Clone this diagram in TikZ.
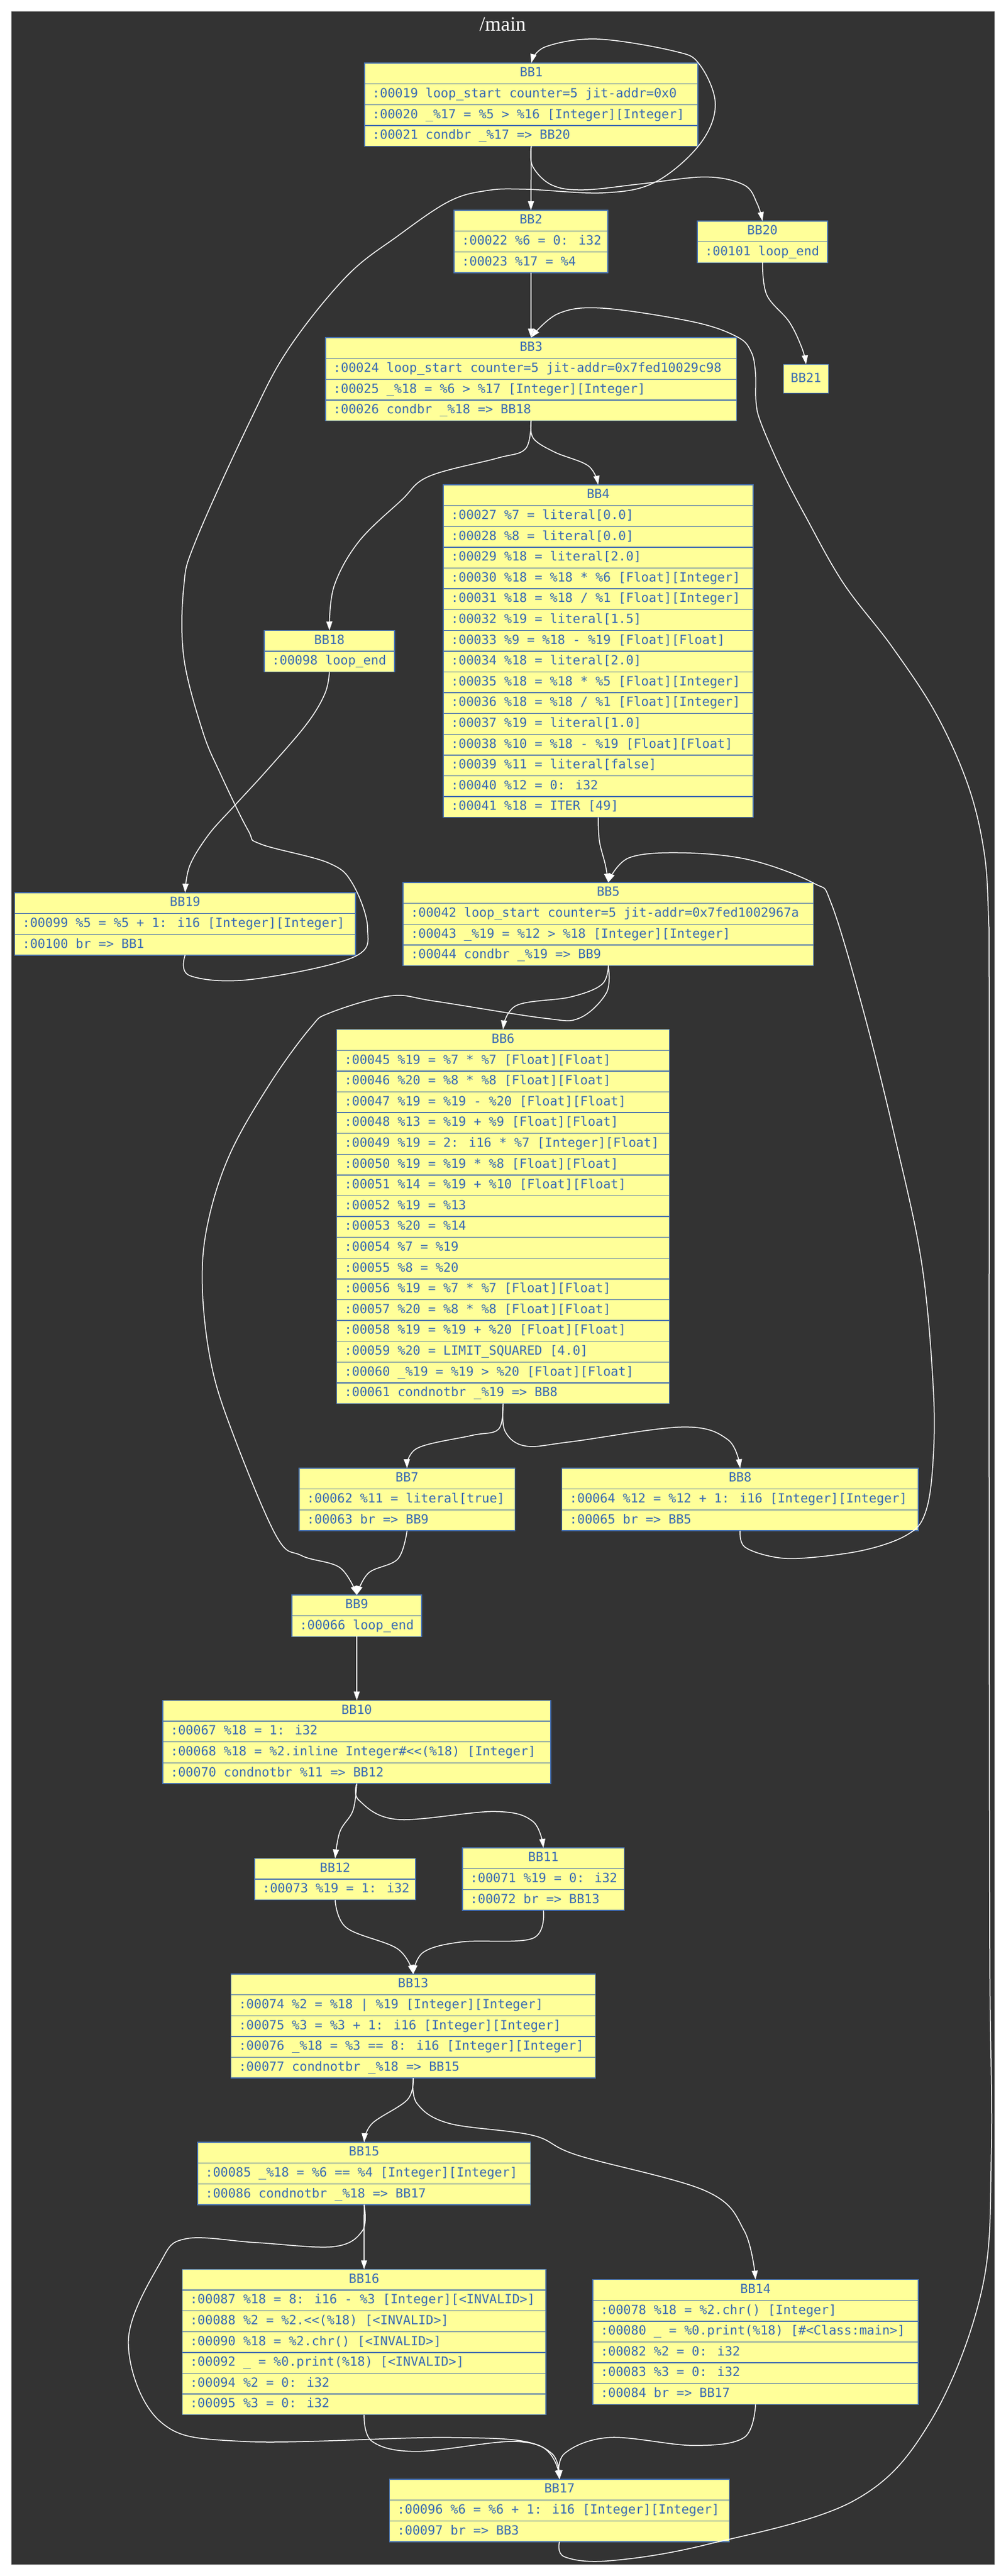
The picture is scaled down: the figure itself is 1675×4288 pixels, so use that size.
\documentclass[tikz,border=0pt]{standalone}
\usepackage{fontspec}
\setmainfont{Liberation Serif}
\newfontfamily\codefont{DejaVu Sans Mono}
\usetikzlibrary{arrows.meta}
\definecolor{bgc}{HTML}{333333}
\definecolor{framec}{HTML}{4A4A4A}
\definecolor{fillc}{HTML}{FFFF99}
\definecolor{txtc}{HTML}{386AB4}
\definecolor{bordc}{HTML}{4670B0}
\tikzset{
  bbox/.style={draw=bordc, fill=fillc, line width=1.4pt, inner sep=0pt, outer sep=0pt},
  sepline/.style={draw=bordc, line width=1.4pt},
  celltext/.style={text=txtc, font=\codefont\fontsize{21.05}{24}\selectfont, inner sep=0pt},
  flow/.style={draw=white, line width=1.5pt, -{Triangle[width=10pt,length=15pt]}, line join=round},
  titletext/.style={text=white, font=\fontsize{34}{40}\selectfont, inner sep=0pt}
}
\def\rh{34.6}
% #1 name, #2 left, #3 top, #4 right, #5 header, #6 rows
\newcommand\bblock[6]{%
  \foreach \t [count=\n] in {#6} {\xdef\nrows{\n}}%
  \pgfmathsetmacro\bw{#4-#2}%
  \pgfmathsetmacro\bh{(\nrows+1)*\rh}%
  \node[bbox, minimum width=\bw pt, minimum height=\bh pt, anchor=north west] (#1) at (#2,#3) {};
  \node[celltext, anchor=base] (#1-h) at ({(#2+#4)/2},{#3+0.5*\rh+5.5}) {#5};
  \foreach \t [count=\i] in {#6} {
    \draw[sepline] (#2,{#3+\i*\rh}) -- (#4,{#3+\i*\rh});
    \node[celltext, anchor=base west] (#1-\i) at ({#2+12.7},{#3+(\i+0.5)*\rh+5.5}) {\t};
  }
}
\begin{document}
\begin{tikzpicture}[x=1pt,y=-1pt]
\useasboundingbox (0,0) rectangle (1675,4288);
\fill[white] (0,0) rectangle (1675,4288);
\filldraw[fill=bgc, draw=framec, line width=1.2pt] (19.3,19.3) rectangle (1655.5,4268.5);
\node[titletext, anchor=base] (title) at (837,51) {/main};

\bblock{bb1}{607}{105}{1162}{BB1}{{:00019 loop\_start counter=5 jit-addr=0x0},{:00020 \_\%17 = \%5 > \%16 [Integer][Integer]},{:00021 condbr \_\%17 => BB20}}
\bblock{bb2}{756}{350}{1012}{BB2}{{:00022 \%6 = 0: i32},{:00023 \%17 = \%4}}
\bblock{bb20}{1161}{368}{1378}{BB20}{{:00101 loop\_end}}
\node[bbox, minimum width=75pt, minimum height=48.2pt, anchor=north west] (bb21) at (1304.5,606.5) {};
\node[celltext, anchor=base] (bb21-h) at (1342,636.1) {BB21};
\bblock{bb3}{542}{562}{1226.5}{BB3}{{:00024 loop\_start counter=5 jit-addr=0x7fed10029c98},{:00025 \_\%18 = \%6 > \%17 [Integer][Integer]},{:00026 condbr \_\%18 => BB18}}
\bblock{bb4}{738}{807}{1254}{BB4}{{:00027 \%7 = literal[0.0]},{:00028 \%8 = literal[0.0]},{:00029 \%18 = literal[2.0]},{:00030 \%18 = \%18 * \%6 [Float][Integer]},{:00031 \%18 = \%18 / \%1 [Float][Integer]},{:00032 \%19 = literal[1.5]},{:00033 \%9 = \%18 - \%19 [Float][Float]},{:00034 \%18 = literal[2.0]},{:00035 \%18 = \%18 * \%5 [Float][Integer]},{:00036 \%18 = \%18 / \%1 [Float][Integer]},{:00037 \%19 = literal[1.0]},{:00038 \%10 = \%18 - \%19 [Float][Float]},{:00039 \%11 = literal[false]},{:00040 \%12 = 0: i32},{:00041 \%18 = ITER [49]}}
\bblock{bb18}{440}{1049.5}{657}{BB18}{{:00098 loop\_end}}
\bblock{bb19}{24.5}{1486}{592}{BB19}{{:00099 \%5 = \%5 + 1: i16 [Integer][Integer]},{:00100 br => BB1}}
\bblock{bb5}{671}{1469}{1354.6}{BB5}{{:00042 loop\_start counter=5 jit-addr=0x7fed1002967a},{:00043 \_\%19 = \%12 > \%18 [Integer][Integer]},{:00044 condbr \_\%19 => BB9}}
\bblock{bb6}{560.5}{1713.7}{1114.7}{BB6}{{:00045 \%19 = \%7 * \%7 [Float][Float]},{:00046 \%20 = \%8 * \%8 [Float][Float]},{:00047 \%19 = \%19 - \%20 [Float][Float]},{:00048 \%13 = \%19 + \%9 [Float][Float]},{:00049 \%19 = 2: i16 * \%7 [Integer][Float]},{:00050 \%19 = \%19 * \%8 [Float][Float]},{:00051 \%14 = \%19 + \%10 [Float][Float]},{:00052 \%19 = \%13},{:00053 \%20 = \%14},{:00054 \%7 = \%19},{:00055 \%8 = \%20},{:00056 \%19 = \%7 * \%7 [Float][Float]},{:00057 \%20 = \%8 * \%8 [Float][Float]},{:00058 \%19 = \%19 + \%20 [Float][Float]},{:00059 \%20 = LIMIT\_SQUARED [4.0]},{:00060 \_\%19 = \%19 > \%20 [Float][Float]},{:00061 condnotbr \_\%19 => BB8}}
\bblock{bb7}{498}{2444}{857.5}{BB7}{{:00062 \%11 = literal[true]},{:00063 br => BB9}}
\bblock{bb8}{935.5}{2444}{1529}{BB8}{{:00064 \%12 = \%12 + 1: i16 [Integer][Integer]},{:00065 br => BB5}}
\bblock{bb9}{486}{2655}{702}{BB9}{{:00066 loop\_end}}
\bblock{bb10}{271}{2830.5}{917}{BB10}{{:00067 \%18 = 1: i32},{:00068 \%18 = \%2.inline Integer\#<{}<(\%18) [Integer]},{:00070 condnotbr \%11 => BB12}}
\bblock{bb12}{424}{3093.5}{692}{BB12}{{:00073 \%19 = 1: i32}}
\bblock{bb11}{770}{3076}{1039.5}{BB11}{{:00071 \%19 = 0: i32},{:00072 br => BB13}}
\bblock{bb13}{384.6}{3286}{991.5}{BB13}{{:00074 \%2 = \%18 | \%19 [Integer][Integer]},{:00075 \%3 = \%3 + 1: i16 [Integer][Integer]},{:00076 \_\%18 = \%3 == 8: i16 [Integer][Integer]},{:00077 condnotbr \_\%18 => BB15}}
\bblock{bb15}{329}{3566}{883.5}{BB15}{{:00085 \_\%18 = \%6 == \%4 [Integer][Integer]},{:00086 condnotbr \_\%18 => BB17}}
\bblock{bb16}{303.4}{3777.5}{909}{BB16}{{:00087 \%18 = 8: i16 - \%3 [Integer][<INVALID>]},{:00088 \%2 = \%2.<{}<(\%18) [<INVALID>]},{:00090 \%18 = \%2.chr() [<INVALID>]},{:00092 \_ = \%0.print(\%18) [<INVALID>]},{:00094 \%2 = 0: i32},{:00095 \%3 = 0: i32}}
\bblock{bb14}{987}{3794.7}{1529}{BB14}{{:00078 \%18 = \%2.chr() [Integer]},{:00080 \_ = \%0.print(\%18) [\#<Class:main>]},{:00082 \%2 = 0: i32},{:00083 \%3 = 0: i32},{:00084 br => BB17}}
\bblock{bb17}{648.5}{4127}{1214.7}{BB17}{{:00096 \%6 = \%6 + 1: i16 [Integer][Integer]},{:00097 br => BB3}}

% edges
\draw[flow] (bb1.south) -- (bb2.north);
\draw[flow] plot[smooth, tension=0.6] coordinates {(bb1.south) (886.8,276.8) (918.8,308) (972,316) (1068,306) (1175,294.6) (1239,308) (1260.7,339) (bb20.north)};
\draw[flow] plot[smooth, tension=0.6] coordinates {(bb19.south) (316,1624) (416,1630.6) (587,1594) (612,1545) (587,1471) (546,1436) (434,1405) (413,1382) (367,1288) (337,1216) (306,1094) (306,976.5) (326,900) (416.7,700) (480.8,580) (577,460) (662,393) (748,335) (812,317) (876,315) (1004,321) (1090,303.6) (1164.5,241) (1191,174) (1164.5,107) (1122,85) (994,65) (908,78) (bb1.north)};
\draw[flow] (bb2.south) -- (bb3.north);
\draw[flow] plot[smooth, tension=0.6] coordinates {(bb3.south) (875,747) (826.5,763) (714,793) (668,833) (597,902) (556,976.5) (bb18.north)};
\draw[flow] plot[smooth, tension=0.6] coordinates {(bb3.south) (888,729.6) (923.5,752.6) (979.6,775.5) (bb4.north)};
\draw[flow] plot[smooth, tension=0.6] coordinates {(bb17.south) (940,4256) (1015,4262.6) (1175,4236) (1421,4163) (1549,4031) (1634.6,3812.5) (1650.6,3581) (1648,3250) (1647,2500) (1647,1650) (1646,1532) (1638.8,1420) (1612,1307.6) (1558.4,1188) (1484.8,1076) (1404.4,971) (1340.8,858.7) (1300.7,781.5) (1267,704) (1258.8,669) (1257.8,620) (1250.4,585) (1227,560.5) (1154,535.7) (1004,513) (929.5,522) (bb3.north)};
\draw[flow] plot[smooth, tension=0.6] coordinates {(bb4.south) (998,1400) (1008,1440) (bb5.north)};
\draw[flow] plot[smooth, tension=0.6] coordinates {(bb8.south) (1240,2575) (1290,2592) (1346,2593) (1440,2580) (1510,2555) (1540,2520) (1553,2440) (1554,2312) (1534.5,2102) (1489.5,1891) (1437,1680.7) (1384.5,1505) (1354.6,1470) (1249.6,1431.6) (1137,1419.6) (1047,1428) (bb5.north)};
\draw[flow] plot[smooth, tension=0.6] coordinates {(bb5.south) (1002.2,1638.6) (949.8,1659.6) (859.8,1673.7) (bb6.north)};
\draw[flow] plot[smooth, tension=0.6] coordinates {(bb5.south) (1009.7,1652.6) (964.8,1694.7) (904.8,1694.7) (725,1666.7) (650,1657.7) (550,1685.7) (516.7,1711) (450,1803) (383.3,1920) (346.7,2032.7) (336.7,2134.7) (350,2262) (383.3,2374.5) (459,2555) (502,2589.4) (566,2609.5) (bb9.north)};
\draw[flow] plot[smooth, tension=0.6] coordinates {(bb6.south) (830,2379) (785,2389.5) (695,2410.5) (bb7.north)};
\draw[flow] plot[smooth, tension=0.6] coordinates {(bb6.south) (841,2382.5) (875,2407) (950,2400) (1137,2375.4) (1212,2396.5) (bb8.north)};
\draw[flow] plot[smooth, tension=0.6] coordinates {(bb7.south) (662.4,2595) (614,2618) (bb9.north)};
\draw[flow] (bb9.south) -- (bb10.north);
\draw[flow] plot[smooth, tension=0.6] coordinates {(bb10.south) (587.6,3014) (566,3048.7) (bb12.north)};
\draw[flow] plot[smooth, tension=0.6] coordinates {(bb10.south) (598,2997) (662,3028.6) (822.6,3015.4) (886.8,3031.5) (bb11.north)};
\draw[flow] plot[smooth, tension=0.6] coordinates {(bb12.south) (577,3209) (662,3244) (bb13.north)};
\draw[flow] plot[smooth, tension=0.6] coordinates {(bb11.south) (886.8,3226.6) (769,3232.4) (705,3249.6) (bb13.north)};
\draw[flow] plot[smooth, tension=0.6] coordinates {(bb13.south) (678.4,3495) (619.7,3534.6) (bb15.north)};
\draw[flow] plot[smooth, tension=0.6] coordinates {(bb13.south) (694.4,3501.5) (748,3534.6) (886.8,3554.4) (961.5,3587.5) (1175,3647) (1239,3713) (bb14.north)};
\draw[flow] (bb15.south) -- (bb16.north);
\draw[flow] plot[smooth, tension=0.6] coordinates {(bb15.south) (603.6,3713) (555.6,3739.7) (427,3733) (310,3726.5) (267,3766) (213.7,3898.6) (267,4031) (406,4064) (748,4057.4) (897.4,4070.6) (bb17.north)};
\draw[flow] plot[smooth, tension=0.6] coordinates {(bb16.south) (619.7,4064) (694.4,4080.6) (854.7,4064) (918.8,4084) (bb17.north)};
\draw[flow] plot[smooth, tension=0.6] coordinates {(bb14.south) (1239,4057.4) (1154,4070.6) (1015,4057.4) (940,4084) (bb17.north)};
\draw[flow] plot[smooth, tension=0.6] coordinates {(bb18.south) (540.8,1155) (510,1206) (444,1282.7) (387.8,1344) (347,1389.8) (316,1440.8) (bb19.north)};
\draw[flow] plot[smooth, tension=0.6] coordinates {(bb20.south) (1276.7,491) (1314,535.7) (1335.5,580) (bb21.north)};
\end{tikzpicture}
\end{document}
